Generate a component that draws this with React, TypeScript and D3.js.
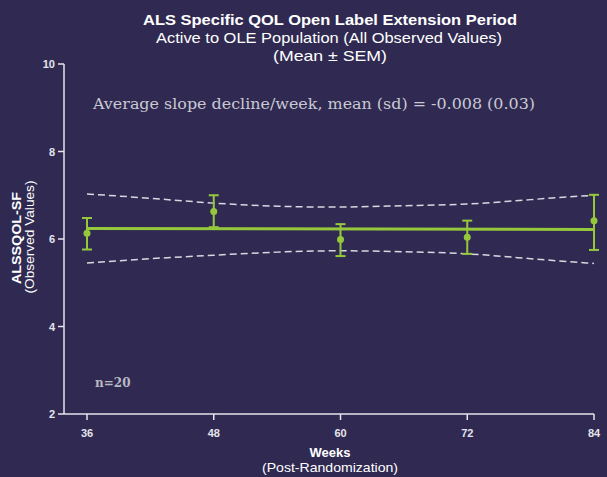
import * as d3 from "d3";

// chart data
const weeks = [36, 48, 60, 72, 84];
const means = [6.13, 6.63, 5.99, 6.04, 6.42];
const semUpper = [6.48, 7.0, 6.34, 6.42, 7.01];
const semLower = [5.76, 6.27, 5.61, 5.66, 5.75];

// regression line (start / end) and its confidence band
const fitWeeks = [36, 84];
const fitValues = [6.24, 6.22];
const bandWeeks = [36, 42, 48, 54, 60, 66, 72, 78, 84];
const bandUpper = [7.03, 6.93, 6.82, 6.75, 6.73, 6.76, 6.8, 6.9, 7.0];
const bandLower = [5.45, 5.55, 5.63, 5.7, 5.73, 5.71, 5.66, 5.55, 5.44];

const yTicks = [2, 4, 6, 8, 10];
const xTicks = [36, 48, 60, 72, 84];

const width = 607;
const height = 477;
const bg = "#302a52";
const green = "#96c83c";
const axisColor = "#e4e4ec";

export default function App() {
  const x = d3.scaleLinear().domain([36, 84]).range([87, 594]);
  const y = d3.scaleLinear().domain([2, 10]).range([414, 64]);
  const x0 = 64;

  const band = d3
    .line<number>()
    .x((_, i) => x(bandWeeks[i]))
    .y((d) => y(d))
    .curve(d3.curveNatural);

  const fit = d3
    .line<number>()
    .x((_, i) => x(fitWeeks[i]))
    .y((d) => y(d));

  return (
    <svg
      width={width}
      height={height}
      style={{ position: "absolute", left: 0, top: 0, background: bg }}
      fontFamily="Liberation Sans, Arial, sans-serif"
    >
      <rect width={width} height={height} fill={bg} />

      {/* titles */}
      <g fill="#ffffff" textAnchor="middle">
        <text x={330} y={25} fontSize={15} fontWeight="bold" textLength={374} lengthAdjust="spacingAndGlyphs">
          ALS Specific QOL Open Label Extension Period
        </text>
        <text x={329} y={43} fontSize={14.5} textLength={346} lengthAdjust="spacingAndGlyphs">
          Active to OLE Population (All Observed Values)
        </text>
        <text x={330} y={61} fontSize={14.5} textLength={114} lengthAdjust="spacingAndGlyphs">
          (Mean ± SEM)
        </text>
      </g>

      {/* annotation */}
      <text
        x={93}
        y={109}
        fontSize={15}
        fill="#c9c9d2"
        fontFamily="DejaVu Serif, serif"
        textLength={442}
        lengthAdjust="spacingAndGlyphs"
      >
        Average slope decline/week, mean (sd) = -0.008 (0.03)
      </text>
      <text x={95} y={387} fontSize={12} fill="#b8b8c4" fontFamily="DejaVu Serif, serif" fontWeight="bold">
        n=20
      </text>

      {/* axes */}
      <g stroke={axisColor} strokeWidth={1.5} fill="none">
        <line x1={x0} x2={x0} y1={y(10)} y2={y(2)} />
        <line x1={x0} x2={x(84)} y1={y(2)} y2={y(2)} />
        {yTicks.map((t) => (
          <line key={t} x1={x0 - 6} x2={x0} y1={y(t)} y2={y(t)} />
        ))}
        {xTicks.map((t) => (
          <line key={t} x1={x(t)} x2={x(t)} y1={y(2)} y2={y(2) + 6} />
        ))}
      </g>
      <g fill={axisColor} fontSize={11} fontWeight="bold">
        {yTicks.map((t) => (
          <text key={t} x={x0 - 9} y={y(t) + 4} textAnchor="end">
            {t}
          </text>
        ))}
        {xTicks.map((t) => (
          <text key={t} x={x(t)} y={y(2) + 23} textAnchor="middle">
            {t}
          </text>
        ))}
      </g>

      {/* axis titles */}
      <g fill="#ffffff" textAnchor="middle">
        <text x={330} y={457} fontSize={13} fontWeight="bold">
          Weeks
        </text>
        <text x={330} y={472} fontSize={13} textLength={136} lengthAdjust="spacingAndGlyphs">
          (Post-Randomization)
        </text>
        <text transform="translate(21,238) rotate(-90)" fontSize={13.5} fontWeight="bold" textLength={92} lengthAdjust="spacingAndGlyphs">
          ALSSQOL-SF
        </text>
        <text transform="translate(34,237) rotate(-90)" fontSize={13} textLength={113} lengthAdjust="spacingAndGlyphs">
          (Observed Values)
        </text>
      </g>

      {/* confidence band */}
      <g fill="none" stroke="#d8d8e0" strokeWidth={1.5} strokeDasharray="7,4">
        <path d={band(bandUpper) ?? ""} />
        <path d={band(bandLower) ?? ""} />
      </g>

      {/* regression line */}
      <path d={fit(fitValues) ?? ""} fill="none" stroke={green} strokeWidth={3} />

      {/* means with SEM */}
      <g stroke={green} strokeWidth={2} fill={green}>
        {weeks.map((w, i) => (
          <g key={w}>
            <line x1={x(w)} x2={x(w)} y1={y(semUpper[i])} y2={y(semLower[i])} />
            <line x1={x(w) - 5} x2={x(w) + 5} y1={y(semUpper[i])} y2={y(semUpper[i])} />
            <line x1={x(w) - 5} x2={x(w) + 5} y1={y(semLower[i])} y2={y(semLower[i])} />
            <circle cx={x(w)} cy={y(means[i])} r={3.5} stroke="none" />
          </g>
        ))}
      </g>
    </svg>
  );
}
